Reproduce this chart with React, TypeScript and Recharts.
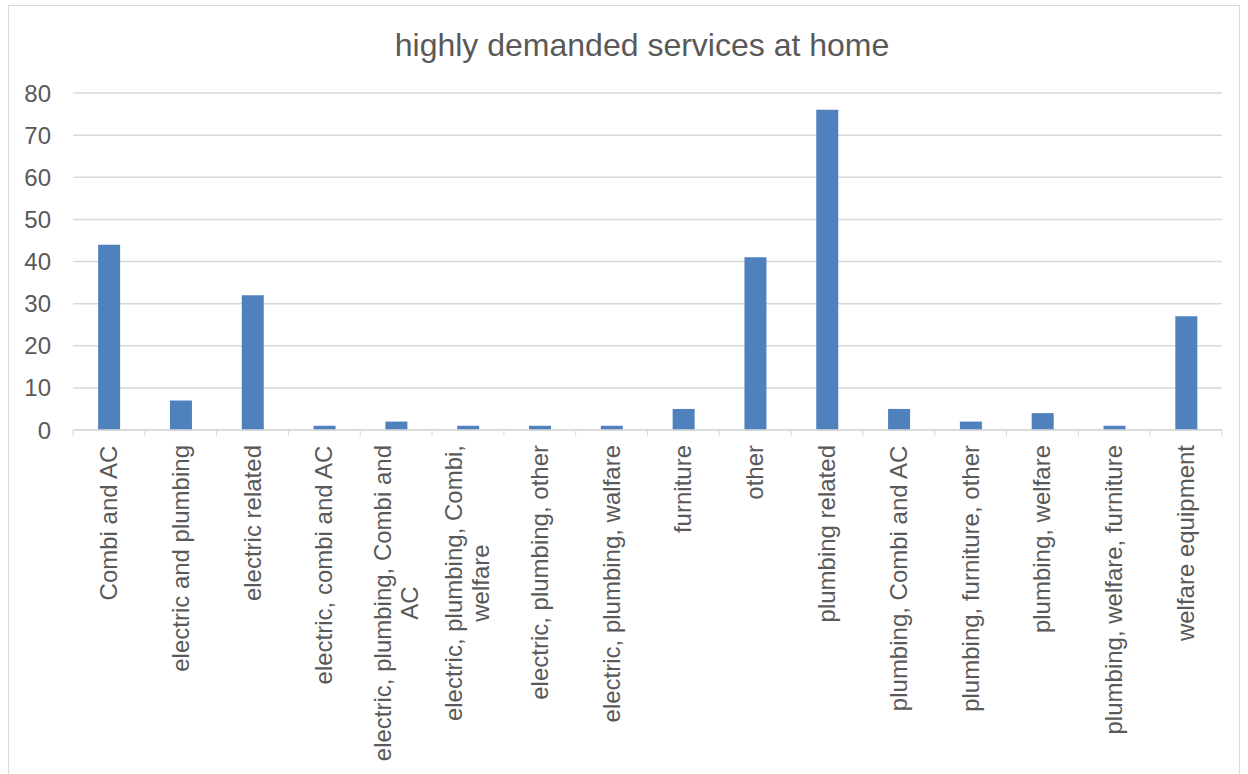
import React from 'react';
import { BarChart, Bar, XAxis, YAxis, CartesianGrid } from 'recharts';

const categories = [
    'Combi and AC',
    'electric and plumbing',
    'electric related',
    'electric, combi and AC',
    'electric, plumbing, Combi and AC',
    'electric, plumbing, Combi, welfare',
    'electric, plumbing, other',
    'electric, plumbing, walfare',
    'furniture',
    'other',
    'plumbing related',
    'plumbing, Combi and AC',
    'plumbing, furniture, other',
    'plumbing, welfare',
    'plumbing, welfare, furniture',
    'welfare equipment',
];
const counts = [44, 7, 32, 1, 2, 1, 1, 1, 5, 41, 76, 5, 2, 4, 1, 27];
const yTicks = [0, 10, 20, 30, 40, 50, 60, 70, 80];

const data = categories.map((name, i) => ({ name, value: counts[i] }));

const FONT = "'Liberation Sans', Arial, sans-serif";
const TEXT = '#595959';
const W = 1232;
const H = 769;
const M = { top: 88, right: 18, bottom: 0, left: 0 };
const Y_W = 65;
const band = (W - Y_W - M.right) / categories.length;

let ctx: CanvasRenderingContext2D | null = null;
const measure = (s: string) => {
    if (!ctx) ctx = document.createElement('canvas').getContext('2d');
    if (!ctx) return s.length * 12;
    ctx.font = `24px ${FONT}`;
    return ctx.measureText(s).width;
};

const wrap = (s: string, max: number) => {
    const words = s.split(' ');
    const lines: string[] = [];
    let cur = '';
    words.forEach((w) => {
        const next = cur ? cur + ' ' + w : w;
        if (cur && measure(next) > max) {
            lines.push(cur);
            cur = w;
        } else cur = next;
    });
    if (cur) lines.push(cur);
    return lines;
};

const CategoryTick = (props: any) => {
    const { x, y, payload, index } = props;
    const lines = wrap(payload.value, 330);
    const maxW = Math.max(...lines.map(measure));
    const lh = 27;
    return (
        <g>
            <line x1={x - band / 2} y1={y} x2={x - band / 2} y2={y + 6} stroke="#d9d9d9" />
            {index === categories.length - 1 && (
                <line x1={x + band / 2} y1={y} x2={x + band / 2} y2={y + 6} stroke="#d9d9d9" />
            )}
            {lines.map((line, i) => {
                const cx = x + (i - (lines.length - 1) / 2) * lh + 8;
                const cy = y + 15 + maxW / 2;
                return (
                    <text
                        key={i}
                        x={cx}
                        y={cy}
                        transform={`rotate(-90, ${cx}, ${cy})`}
                        textAnchor="middle"
                        fontSize={24}
                        fontFamily={FONT}
                        fill={TEXT}
                    >
                        {line}
                    </text>
                );
            })}
        </g>
    );
};

export default function App() {
    return (
        <div style={{ position: 'absolute', left: 8, top: 5, width: W, height: 790, border: '1px solid #d9d9d9', boxSizing: 'border-box', background: '#fff' }}>
            <div
                style={{
                    position: 'absolute',
                    left: 0,
                    width: 1266,
                    top: 23,
                    textAlign: 'center',
                    fontFamily: FONT,
                    fontSize: 32,
                    lineHeight: '32px',
                    color: TEXT,
                }}
            >
                highly demanded services at home
            </div>
            <div style={{ position: 'absolute', left: -1, top: -1 }}>
                <BarChart width={W} height={H} data={data} margin={M} barCategoryGap="35%">
                    <CartesianGrid vertical={false} stroke="#d9d9d9" strokeWidth={1.5} />
                    <XAxis
                        dataKey="name"
                        interval={0}
                        height={H - 425 - M.bottom}
                        tickLine={false}
                        tickSize={0}
                        tickMargin={0}
                        axisLine={{ stroke: '#d9d9d9', strokeWidth: 1.5 }}
                        tick={<CategoryTick />}
                    />
                    <YAxis
                        width={Y_W}
                        domain={[0, 80]}
                        ticks={yTicks}
                        tickLine={false}
                        axisLine={false}
                        tickSize={0}
                        tickMargin={22}
                        tick={{ fontSize: 24, fontFamily: FONT, fill: TEXT }}
                    />
                    <Bar dataKey="value" fill="#4F81BD" isAnimationActive={false} />
                </BarChart>
            </div>
        </div>
    );
}
